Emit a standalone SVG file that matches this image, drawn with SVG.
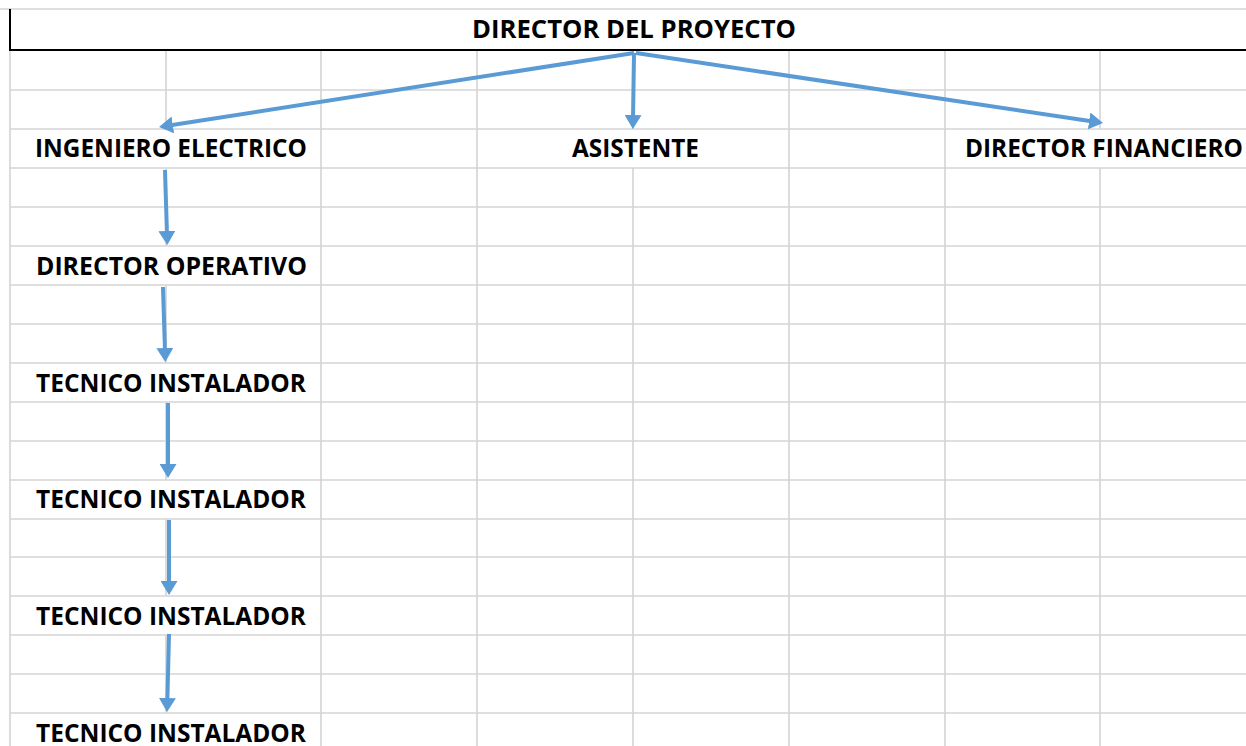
<svg xmlns="http://www.w3.org/2000/svg" width="1246" height="746" viewBox="0 0 1246 746">
<style>
.g{stroke:#D4D4D4;stroke-width:1.6;fill:none}
.b{stroke:#000;stroke-width:2;fill:none}
.t{font-family:"Open Sans",Lato,"Liberation Sans",sans-serif;font-weight:bold;font-size:24.5px;fill:#000}
.c{stroke:#5B9BD5;stroke-width:4;fill:none;marker-end:url(#ah)}
</style>
<defs>
<marker id="ah" markerUnits="userSpaceOnUse" markerWidth="14" markerHeight="17" refX="4" refY="8.5" orient="auto">
<path d="M0,0 L14,8.5 L0,17 z" fill="#5B9BD5"/>
</marker>
</defs>
<rect width="1246" height="746" fill="#fff"/>
<g id="grid">
<line class="g" x1="0" y1="9" x2="1246" y2="9"/>
<g class="g">
<line x1="10" y1="90" x2="1246" y2="90"/>
<line x1="10" y1="129" x2="1246" y2="129"/>
<line x1="10" y1="168" x2="1246" y2="168"/>
<line x1="10" y1="207" x2="1246" y2="207"/>
<line x1="10" y1="246" x2="1246" y2="246"/>
<line x1="10" y1="285" x2="1246" y2="285"/>
<line x1="10" y1="324" x2="1246" y2="324"/>
<line x1="10" y1="363" x2="1246" y2="363"/>
<line x1="10" y1="402" x2="1246" y2="402"/>
<line x1="10" y1="441" x2="1246" y2="441"/>
<line x1="10" y1="480" x2="1246" y2="480"/>
<line x1="10" y1="519" x2="1246" y2="519"/>
<line x1="10" y1="557" x2="1246" y2="557"/>
<line x1="10" y1="596" x2="1246" y2="596"/>
<line x1="10" y1="635" x2="1246" y2="635"/>
<line x1="10" y1="674" x2="1246" y2="674"/>
<line x1="10" y1="713" x2="1246" y2="713"/>
<line x1="10" y1="50" x2="10" y2="746"/>
<line x1="166" y1="50" x2="166" y2="129"/>
<line x1="166" y1="168" x2="166" y2="246"/>
<line x1="166" y1="285" x2="166" y2="363"/>
<line x1="166" y1="402" x2="166" y2="480"/>
<line x1="166" y1="519" x2="166" y2="596"/>
<line x1="166" y1="635" x2="166" y2="713"/>
<line x1="321" y1="50" x2="321" y2="746"/>
<line x1="477" y1="50" x2="477" y2="746"/>
<line x1="633" y1="50" x2="633" y2="129"/>
<line x1="633" y1="168" x2="633" y2="746"/>
<line x1="789" y1="50" x2="789" y2="746"/>
<line x1="945" y1="50" x2="945" y2="746"/>
<line x1="1100" y1="50" x2="1100" y2="129"/>
<line x1="1100" y1="168" x2="1100" y2="746"/>
</g>
<line class="b" x1="10" y1="9" x2="10" y2="50"/>
<line class="b" x1="9" y1="50" x2="1246" y2="50"/>
</g>
<g id="connectors">
<line class="c" x1="634" y1="53" x2="168.9" y2="125.5"/>
<line class="c" x1="634" y1="53" x2="633" y2="119"/>
<line class="c" x1="636" y1="53" x2="1093.1" y2="121.5"/>
<line class="c" x1="165" y1="170" x2="167" y2="235"/>
<line class="c" x1="163" y1="287" x2="165" y2="352"/>
<line class="c" x1="168" y1="403" x2="168" y2="468"/>
<line class="c" x1="169" y1="520" x2="169" y2="585"/>
<line class="c" x1="169" y1="634" x2="167.3" y2="702"/>
</g>
<g id="director-proyecto"><text class="t" x="472" y="38" textLength="324" lengthAdjust="spacingAndGlyphs">DIRECTOR DEL PROYECTO</text></g>
<g id="ingeniero-electrico"><text class="t" x="35" y="157" textLength="272" lengthAdjust="spacingAndGlyphs">INGENIERO ELECTRICO</text></g>
<g id="asistente"><text class="t" x="572" y="157" textLength="127" lengthAdjust="spacingAndGlyphs">ASISTENTE</text></g>
<g id="director-financiero"><text class="t" x="965" y="157" textLength="278" lengthAdjust="spacingAndGlyphs">DIRECTOR FINANCIERO</text></g>
<g id="director-operativo"><text class="t" x="36" y="275" textLength="271" lengthAdjust="spacingAndGlyphs">DIRECTOR OPERATIVO</text></g>
<g id="tecnico-1"><text class="t" x="36" y="392" textLength="270" lengthAdjust="spacingAndGlyphs">TECNICO INSTALADOR</text></g>
<g id="tecnico-2"><text class="t" x="36" y="508" textLength="270" lengthAdjust="spacingAndGlyphs">TECNICO INSTALADOR</text></g>
<g id="tecnico-3"><text class="t" x="36" y="625" textLength="270" lengthAdjust="spacingAndGlyphs">TECNICO INSTALADOR</text></g>
<g id="tecnico-4"><text class="t" x="36" y="742" textLength="270" lengthAdjust="spacingAndGlyphs">TECNICO INSTALADOR</text></g>
</svg>
